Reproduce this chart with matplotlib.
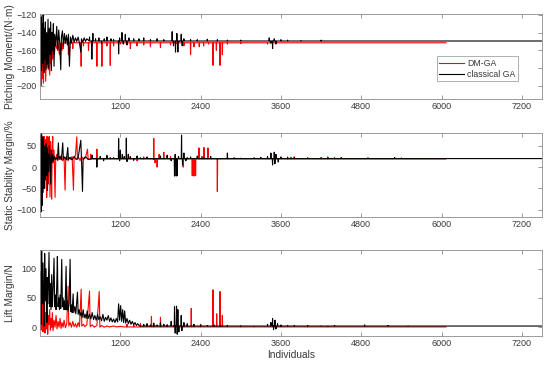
import matplotlib
matplotlib.use("Agg")
import matplotlib.pyplot as plt

plt.rcParams['font.family'] = ['Liberation Sans', 'DejaVu Sans']

# ---------------- data ----------------
N_black = 7500
N_red = 6065
x_ticks = [1200, 2400, 3600, 4800, 6000, 7200]

# Panel 1: Pitching moment
pm_black_base = -149.5
pm_red_base = -151.5
pm_black_trace_x = [0, 8, 16, 24, 32, 40, 48, 56, 64, 72, 80, 90, 100, 110, 120, 130, 140, 150, 160, 170,
                    180, 190, 200, 210, 220, 235, 250, 265, 280, 295, 310, 320, 335, 350, 365, 380, 395,
                    410, 425, 440, 455, 470, 490, 510, 530, 550, 570, 590, 610, 620, 640, 660, 680, 700]
pm_black_trace_y = [-125, -178, -122, -183, -130, -175, -120, -185, -135, -170, -128, -182, -140, -176, -125,
                    -180, -135, -165, -128, -183, -140, -160, -130, -178, -142, -155, -133, -160, -137, -152,
                    -182, -145, -138, -155, -141, -152, -143, -154, -142, -178, -145, -152, -143, -151, -146,
                    -150, -145, -152, -162, -147, -151, -146, -150, -147]
pm_black_spikes = [(740, -145), (775, -170), (790, -141), (830, -147), (880, -146), (920, -152), (960, -147),
                   (1000, -145), (1060, -147), (1100, -148), (1175, -164), (1190, -146), (1225, -140),
                   (1245, -153), (1275, -142), (1300, -154), (1330, -146), (1400, -147), (1480, -147),
                   (1550, -146), (1650, -148), (1750, -147), (1850, -148), (1975, -139), (1995, -155),
                   (2025, -162), (2045, -141), (2060, -162), (2080, -150), (2110, -142), (2125, -155),
                   (2150, -147), (2250, -148), (2350, -148), (2500, -147.5), (2650, -148), (2800, -148.5),
                   (3000, -148.5), (3425, -146), (3450, -152), (3475, -158), (3500, -147), (3525, -153),
                   (3600, -148), (3700, -148.5), (3900, -149), (4200, -148.5)]
pm_red_trace_x = [0, 8, 15, 22, 30, 38, 45, 52, 60, 68, 75, 85, 95, 105, 115, 125, 135, 145, 155, 165, 175,
                  190, 205, 215, 230, 250, 270, 290, 310, 330]
pm_red_trace_y = [-152, -198, -155, -200, -160, -192, -152, -197, -165, -185, -152, -195, -158, -180, -155,
                  -182, -152, -188, -160, -175, -152, -170, -152, -165, -152, -158, -152, -165, -152, -160]
pm_red_spikes = [(350, -158), (425, -165), (490, -158), (615, -178), (650, -155), (725, -160), (780, -155),
                 (850, -178), (925, -178), (1000, -155), (1050, -177), (1100, -155), (1200, -153),
                 (1350, -158), (1450, -155), (1550, -154), (1650, -156), (1800, -157), (1950, -154),
                 (2050, -153), (2150, -155), (2250, -165), (2300, -156), (2380, -156), (2445, -155),
                 (2520, -153), (2585, -177), (2635, -160), (2690, -177), (2725, -165), (2800, -153),
                 (3000, -152.5), (3400, -153)]

# Panel 2: Static stability margin
ss_black_base = 20
ss_red_base = 19
ss_black_trace_x = [0, 6, 12, 18, 24, 30, 36, 42, 48, 54, 60, 66, 72, 80, 88, 96, 104, 112, 120, 130, 140,
                    150, 160, 170, 180, 190, 200, 215, 230, 245, 260, 275, 285, 300, 320, 340, 350, 370,
                    395, 415, 425, 450, 480, 510, 540, 570, 610, 620, 635, 645, 680, 720]
ss_black_trace_y = [20, -100, 75, -105, 80, -90, 20, -60, 70, -40, 50, -50, 40, -30, 55, -20, 45, -55, 30,
                    -10, 50, 15, -40, 40, 10, 30, 15, 25, 18, 22, 17, 57, 18, 25, 17, 57, 18, 24, 17, 46, 18,
                    23, 17, 25, 18, 22, 63, 19, -57, 20, 24, 18]
ss_black_spikes = [(780, 28), (850, 0), (900, 25), (950, 15), (1000, 26), (1100, 22), (1175, 67), (1190, 15),
                   (1200, 40), (1230, 30), (1260, 25), (1290, 68), (1300, 13), (1320, 30), (1350, 24),
                   (1400, 16), (1450, 26), (1500, 22), (1600, 24), (1700, 18), (1800, 26), (1900, 28),
                   (1960, 15), (2010, -21), (2020, 30), (2035, -21), (2050, -20), (2070, 25), (2115, 75),
                   (2130, 5), (2150, 33), (2180, 15), (2250, 24), (2350, 26), (2450, 22), (2550, 25),
                   (2650, 18), (2800, 33), (2900, 22), (3000, 21), (3200, 22), (3300, 23), (3400, 25),
                   (3450, 33), (3475, 5), (3500, 35), (3510, 8), (3525, 30), (3560, 12), (3600, 24),
                   (3700, 22), (3800, 23), (4000, 22), (4300, 22), (4500, 22.5), (4900, 22), (5300, 22.5),
                   (5400, 21.5)]
ss_red_trace_x = [0, 5, 10, 15, 20, 25, 30, 35, 40, 45, 50, 55, 60, 65, 70, 75, 80, 85, 90, 95, 100, 105,
                  110, 115, 120, 125, 130, 140, 150, 158, 166, 174, 182, 190, 198, 206, 214, 225, 235, 250,
                  265, 280, 300, 320, 340, 360, 375, 385, 400, 420, 440, 460, 480, 500, 510, 530, 550, 560,
                  580, 600, 620, 650, 680, 710, 720]
ss_red_trace_y = [20, 40, -30, 60, -10, 50, -40, 65, 0, 72, -20, 40, 30, 72, -50, 60, 10, 65, -30, 50, -71,
                  72, 20, 55, -40, 70, 10, 72, -70, 60, 15, -75, 30, 72, 10, 40, 15, -71, 20, 30, 15, 25, 18,
                  28, 15, 22, -54, 18, 25, 15, 22, 18, 25, -54, 20, 28, 71, 18, 22, 15, 25, 18, 22, 42, 18]
ss_red_spikes = [(760, 30), (850, 42), (900, 22), (950, 15), (1000, 28), (1050, 23), (1150, 20), (1250, 22),
                 (1350, 25), (1450, 15), (1550, 24), (1650, 20), (1700, 67), (1720, 10), (1750, 0),
                 (1780, 30), (1850, 35), (1950, 25), (2140, 0), (2200, 23), (2275, -20), (2300, -21),
                 (2325, -20), (2375, 45), (2420, 25), (2450, 46), (2510, 45), (2550, 22), (2650, -57),
                 (2700, 20), (2800, 22), (3000, 19.5), (3700, 24), (3750, 23), (3800, 24), (4200, 23),
                 (4300, 24), (4400, 23)]

# Panel 3: Lift margin
lm_black_base = 2
lm_red_base = 0.5
lm_black_trace_x = [0, 10, 15, 20, 25, 35, 45, 55, 60, 70, 80, 90, 100, 105, 110, 120, 135, 145, 155, 165,
                    175, 185, 195, 210, 220, 230, 240, 250, 260, 270, 280, 290, 300, 310, 325, 335, 345, 355,
                    365, 375, 390, 400, 410, 420, 435, 450, 460, 470, 480, 495, 505, 520, 535, 560, 570, 585,
                    600, 615, 630, 645, 660, 675, 690, 705, 720, 740, 760, 780, 800, 820, 840, 860, 880, 900,
                    920, 940, 960, 980, 1000, 1020, 1040, 1060, 1080, 1100, 1120, 1140, 1160, 1175, 1190,
                    1205, 1220, 1235, 1250, 1265, 1280, 1300, 1320, 1340, 1360, 1380, 1400, 1420, 1440, 1460,
                    1480, 1500]
lm_black_trace_y = [50, 95, 5, 30, 131, 40, 110, 20, 2, 126, 45, 100, 25, 8, 85, 40, 128, 35, 75, 30, 90, 35,
                    60, 118, 35, 55, 30, 70, 121, 35, 50, 30, 55, 32, 116, 35, 50, 30, 45, 30, 104, 30, 45,
                    28, 40, 116, 27, 38, 25, 57, 25, 35, 23, 60, 22, 30, 20, 25, 17, 30, 16, 22, 15, 28, 15,
                    22, 14, 25, 13, 20, 12, 22, 13, 18, 11, 22, 10, 17, 12, 20, 10, 16, 9, 14, 8, 15, 9, 40,
                    12, 37, 10, 30, 8, 28, 7, 15, 6, 12, 5, 10, 4, 8, 3, 6, 3, 2]
lm_black_spikes = [(1550, 5), (1600, 6), (1650, 4), (1700, 7), (1750, 4), (1800, 8), (1850, 5), (1900, 4),
                   (1960, 10), (2010, 35), (2020, -10), (2040, 36), (2050, -12), (2060, 30), (2075, -8),
                   (2110, 20), (2120, -6), (2150, 8), (2200, 6), (2300, 5), (2400, 4), (2500, 3), (2600, 4),
                   (2700, 3), (2800, 3), (3000, 2.5), (3400, 5), (3450, 8), (3475, 15), (3490, -4),
                   (3510, 12), (3525, -3), (3550, 6), (3600, 4), (3700, 3), (3800, 3), (4000, 3),
                   (4200, 2.5), (4400, 3), (4850, 4), (5200, 3), (5500, 2.5)]
lm_red_trace_x = [0, 8, 15, 22, 30, 38, 45, 52, 60, 68, 75, 85, 95, 105, 115, 125, 135, 145, 155, 165, 175,
                  185, 195, 210, 225, 240, 255, 270, 285, 300, 315, 330, 345, 360, 380, 400, 420, 430, 450,
                  470, 490, 510, 530, 550, 570, 590, 615, 625, 650, 670, 700, 740, 750, 780, 810, 850, 885,
                  895, 920, 960, 1000, 1040, 1100, 1150, 1200, 1250]
lm_red_trace_y = [5, 40, -5, 60, 10, 45, -8, 30, 0, 50, -10, 25, -3, 40, -12, 20, 5, 30, -5, 15, 0, 25, -6,
                  12, 0, 20, -3, 10, 0, 15, -2, 8, 0, 12, -1, 6, 70, 2, 8, 0, 10, 1, 6, 0, 8, 1, 65, 2, 5,
                  1, 4, 62, 1, 4, 0, 3, 61, 0, 3, 0, 2, 0.5, 2, 0.5, 1.5, 0.5]
lm_red_spikes = [(1300, 5), (1400, 4), (1500, 6), (1665, 18), (1700, 3), (1800, 17), (1900, 4), (2000, 3),
                 (2150, 5), (2260, 32), (2300, 4), (2400, 5), (2585, 64), (2640, 23), (2690, 61),
                 (2725, 20), (2800, 3), (3000, 2), (3200, 1.5), (3600, 2), (4000, 1), (4300, 1.5)]

panels = [
    dict(ylabel='Pitching Moment/(N·m)', ylim=(-215, -119), yticks=[-200, -180, -160, -140, -120],
         red=(pm_red_trace_x, pm_red_trace_y, pm_red_spikes, pm_red_base),
         black=(pm_black_trace_x, pm_black_trace_y, pm_black_spikes, pm_black_base)),
    dict(ylabel='Static Stability Margin/%', ylim=(-117, 80), yticks=[-100, -50, 0, 50],
         red=(ss_red_trace_x, ss_red_trace_y, ss_red_spikes, ss_red_base),
         black=(ss_black_trace_x, ss_black_trace_y, ss_black_spikes, ss_black_base)),
    dict(ylabel='Lift Margin/N', ylim=(-15, 132), yticks=[0, 50, 100],
         red=(lm_red_trace_x, lm_red_trace_y, lm_red_spikes, lm_red_base),
         black=(lm_black_trace_x, lm_black_trace_y, lm_black_spikes, lm_black_base)),
]


def build(trace_x, trace_y, spikes, base, n_end):
    xs = list(trace_x)
    ys = list(trace_y)
    for sx, sy in spikes:
        xs += [sx - 4, sx, sx + 4]
        ys += [base, sy, base]
    xs.append(n_end)
    ys.append(base)
    return xs, ys


fig = plt.figure(figsize=(5.5, 3.67), dpi=100)
rects = [(0.0727, 0.7302, 0.9127, 0.2317),
         (0.0727, 0.4087, 0.9127, 0.2289),
         (0.0727, 0.0845, 0.9127, 0.2343)]
axc = '#8c8c8c'
txtc = '#3a3a3a'
for i, (p, r) in enumerate(zip(panels, rects)):
    ax = fig.add_axes(r)
    rx, ry = build(*p['red'], N_red)
    bx, by = build(*p['black'], N_black)
    ax.plot(rx, ry, color='#ff0000', lw=0.8, label='DM-GA')
    ax.plot(bx, by, color='#000000', lw=0.8, label='classical GA')
    ax.set_xlim(0, N_black)
    ax.set_ylim(*p['ylim'])
    ax.set_xticks(x_ticks)
    ax.set_yticks(p['yticks'])
    ax.tick_params(direction='in', top=True, right=True, length=3, width=0.6,
                   labelsize=6.5, colors=axc, labelcolor=txtc, pad=2.5)
    for s in ax.spines.values():
        s.set_color(axc)
        s.set_linewidth(0.6)
    ax.set_ylabel(p['ylabel'], fontsize=7.3, color=txtc, labelpad=2)
    ax.yaxis.set_label_coords(-0.05, 0.5)
    if i == 0:
        leg = ax.legend(loc='upper left', bbox_to_anchor=(0.79, 0.5), fontsize=6.3, frameon=True,
                        fancybox=False, handlelength=2.8, borderpad=0.3, labelspacing=0.2,
                        handletextpad=0.4, borderaxespad=0)
        leg.get_frame().set_edgecolor(axc)
        leg.get_frame().set_linewidth(0.6)
        for t in leg.get_texts():
            t.set_color(txtc)
    if i == 2:
        ax.set_xlabel('Individuals', fontsize=7.3, color=txtc, labelpad=1)

fig.savefig('out.png', dpi=100)
